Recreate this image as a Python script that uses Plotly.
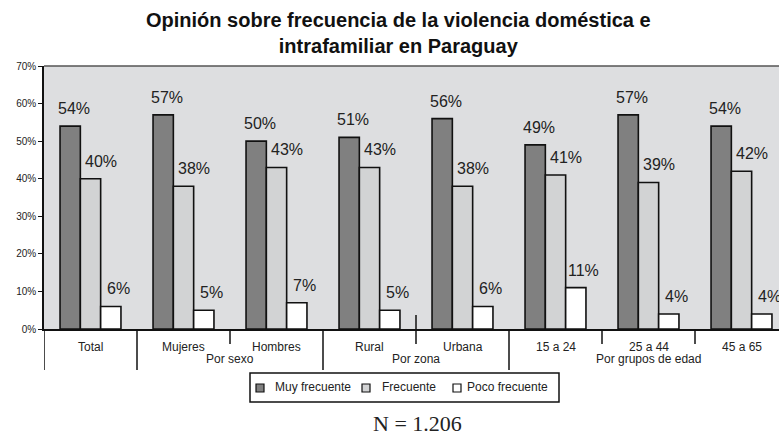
import plotly.graph_objects as go

categories = ["Total", "Mujeres", "Hombres", "Rural", "Urbana", "15 a 24", "25 a 44", "45 a 65"]
series_names = ["Muy frecuente", "Frecuente", "Poco frecuente"]
muy_frecuente = [54, 57, 50, 51, 56, 49, 57, 54]
frecuente = [40, 38, 43, 43, 38, 41, 39, 42]
poco_frecuente = [6, 5, 7, 5, 6, 11, 4, 4]
groups = [("Por sexo", 1.5), ("Por zona", 3.5), ("Por grupos de edad", 6.0)]
y_ticks = [0, 10, 20, 30, 40, 50, 60, 70]

colors = ["#808080", "#d2d3d4", "#ffffff"]
FONT = "Liberation Sans, Arial, sans-serif"
BAR_W = 0.218
offsets = [-BAR_W, 0.0, BAR_W]
label_shift = [4, 10, 8]

W, H, L, T, B = 779, 437, 44, 66, 329
PW, PH = W - L, B - T


def px(x):
    return (x - L) / PW


def py(y):
    return (B - y) / PH


fig = go.Figure()
values = [muy_frecuente, frecuente, poco_frecuente]
for name, vals, col in zip(series_names, values, colors):
    fig.add_trace(go.Bar(
        x=categories, y=vals, name=name,
        marker=dict(color=col, line=dict(color="#111111", width=1.6)),
        showlegend=False,
    ))

annotations = []
# value labels
for s, vals in enumerate(values):
    for i, v in enumerate(vals):
        annotations.append(dict(
            x=i + offsets[s], y=v, xref="x", yref="y", text=f"{v}%",
            showarrow=False, xanchor="center", yanchor="bottom",
            xshift=label_shift[s], yshift=7,
            font=dict(family=FONT, size=16, color="#222222"),
        ))
# category labels
for i, c in enumerate(categories):
    annotations.append(dict(
        x=i, y=py(346.5), xref="x", yref="paper", text=c, showarrow=False,
        xanchor="center", yanchor="middle",
        font=dict(family=FONT, size=12, color="#222222"),
    ))
for g, pos in groups:
    annotations.append(dict(
        x=pos, y=py(359), xref="x", yref="paper", text=g, showarrow=False,
        xanchor="center", yanchor="middle",
        font=dict(family=FONT, size=12, color="#222222"),
    ))

# title
annotations.append(dict(
    x=px(398), y=py(7), xref="paper", yref="paper", showarrow=False,
    xanchor="center", yanchor="top",
    text="<b>Opinión sobre frecuencia de la violencia doméstica e<br>intrafamiliar en Paraguay</b>",
    font=dict(family=FONT, size=20, color="#111111"),
))

shapes = []
# top frame line
shapes.append(dict(type="line", xref="paper", yref="paper", x0=0, x1=1, y0=1, y1=1,
                   line=dict(color="#555555", width=1.5)))
# separators below axis
long_sep = [-0.5, 0.5, 2.5, 4.5]
short_sep = [1.5, 5.5, 6.5]
for x in long_sep:
    shapes.append(dict(type="line", xref="x", yref="paper", x0=x, x1=x, y0=0, y1=py(370),
                       line=dict(color="#111111", width=1.5)))
for x in short_sep:
    shapes.append(dict(type="line", xref="x", yref="paper", x0=x, x1=x, y0=0, y1=py(344),
                       line=dict(color="#111111", width=1.5)))
shapes.append(dict(type="line", xref="x", yref="paper", x0=3.5, x1=3.5, y0=py(315), y1=py(344),
                   line=dict(color="#111111", width=1.5)))

# legend box (manual)
shapes.append(dict(type="rect", xref="paper", yref="paper", x0=px(250), x1=px(559),
                   y0=py(402), y1=py(373), line=dict(color="#111111", width=1.5),
                   fillcolor="white"))
leg_sq = [256, 362, 453]
leg_tx = [273, 380, 465]
for name, col, sx, tx in zip(series_names, colors, leg_sq, leg_tx):
    shapes.append(dict(type="rect", xref="paper", yref="paper", x0=px(sx), x1=px(sx + 8),
                       y0=py(392), y1=py(384), fillcolor=col,
                       line=dict(color="#111111", width=1.2)))
    annotations.append(dict(x=px(tx), y=py(387), xref="paper", yref="paper", text=name,
                            showarrow=False, xanchor="left", yanchor="middle",
                            font=dict(family=FONT, size=12, color="#222222")))

annotations.append(dict(x=px(417), y=py(424), xref="paper", yref="paper", text="N = 1.206",
                        showarrow=False, xanchor="center", yanchor="middle",
                        font=dict(family="Liberation Serif, Times New Roman, serif", size=22,
                                  color="#222222")))

fig.update_layout(
    width=W, height=H,
    margin=dict(l=L, r=0, t=T, b=H - B, pad=0),
    paper_bgcolor="white",
    plot_bgcolor="#dddee0",
    barmode="group", bargap=0.345, bargroupgap=0,
    xaxis=dict(
        range=[-0.5, -0.5 + PW / 93.0], showticklabels=False, ticks="",
        showgrid=False, showline=True, linecolor="#111111", linewidth=1.6,
        zeroline=False, fixedrange=True,
    ),
    yaxis=dict(
        range=[0, 70], tickvals=y_ticks, ticktext=[f"{v}%" for v in y_ticks],
        showgrid=False, showline=True, linecolor="#111111", linewidth=1.6,
        ticks="outside", ticklen=4, tickcolor="#111111", zeroline=False,
        tickfont=dict(family=FONT, size=10, color="#222222"),
    ),
    annotations=annotations,
    shapes=shapes,
    showlegend=False,
)

fig.write_html("out.html", config={"displayModeBar": False},
               post_script="document.body.style.margin='0px';")
